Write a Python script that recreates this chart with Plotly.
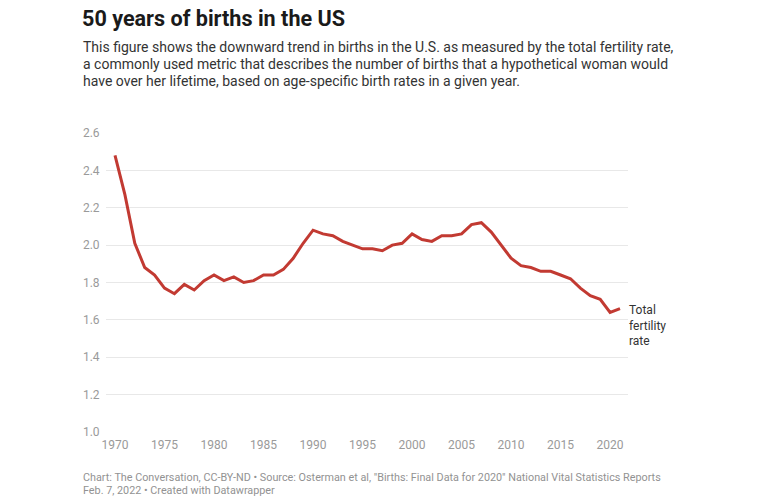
import plotly.graph_objects as go

years = list(range(1970, 2022))
tfr = [2.48, 2.27, 2.01, 1.88, 1.84, 1.77, 1.74, 1.79, 1.76, 1.81,
       1.84, 1.81, 1.83, 1.80, 1.81, 1.84, 1.84, 1.87, 1.93, 2.01,
       2.08, 2.06, 2.05, 2.02, 2.00, 1.98, 1.98, 1.97, 2.00, 2.01,
       2.06, 2.03, 2.02, 2.05, 2.05, 2.06, 2.11, 2.12, 2.07, 2.00,
       1.93, 1.89, 1.88, 1.86, 1.86, 1.84, 1.82, 1.77, 1.73, 1.71,
       1.64, 1.66]
x_ticks = [1970, 1975, 1980, 1985, 1990, 1995, 2000, 2005, 2010, 2015, 2020]
y_ticks = [1.0, 1.2, 1.4, 1.6, 1.8, 2.0, 2.2, 2.4, 2.6]

title = "50 years of births in the US"
subtitle_lines = [
    "This figure shows the downward trend in births in the U.S. as measured by the total fertility rate,",
    "a commonly used metric that describes the number of births that a hypothetical woman would",
    "have over her lifetime, based on age-specific birth rates in a given year.",
]
footer_lines = [
    "Chart: The Conversation, CC-BY-ND • Source: Osterman et al, \"Births: Final Data for 2020\" National Vital Statistics Reports",
    "Feb. 7, 2022 • Created with Datawrapper",
]
series_label = "Total<br>fertility<br>rate"

OFF = 8  # page body margin
W, H = 758 - OFF, 502 - OFF
# plot area in page pixels
L, R, T, B = 106, 628, 133, 432
Lf, Rf, Tf, Bf = L - OFF, R - OFF, T - OFF, B - OFF

def px(x):
    return (x - L) / (R - L)

def py(y):
    return (B - y) / (B - T)

PX_PER_YEAR = (620 - 115) / 51.0

fig = go.Figure()
fig.add_trace(go.Scatter(x=years, y=tfr, mode="lines",
                         line=dict(color="#c23a32", width=3),
                         hoverinfo="skip", showlegend=False))

FONT = "Roboto, Arial, sans-serif"

fig.update_layout(
    width=W, height=H,
    margin=dict(l=Lf, r=W - Rf, t=Tf, b=H - Bf, pad=0),
    paper_bgcolor="white", plot_bgcolor="white",
    font=dict(family=FONT, color="#333333"),
    showlegend=False,
    xaxis=dict(range=[1970 - (115 - L) / PX_PER_YEAR, 1970 + (R - 115) / PX_PER_YEAR],
               tickvals=x_ticks, ticktext=[str(v) for v in x_ticks],
               showgrid=False, zeroline=False, showline=False,
               ticks="outside", ticklen=2, tickcolor="rgba(0,0,0,0)",
               tickfont=dict(family=FONT, size=12, color="#9a9a9a")),
    yaxis=dict(range=[1.0, 2.6], tickvals=y_ticks,
               ticktext=[f"{v:.1f}" for v in y_ticks],
               showgrid=True, gridcolor="#e8e8e8", gridwidth=1,
               zeroline=False, showline=False,
               ticks="outside", ticklen=3, tickcolor="rgba(0,0,0,0)",
               tickfont=dict(family=FONT, size=12, color="#9a9a9a")),
)

anns = [dict(text="<b>" + title + "</b>", x=px(80), y=py(18), font=dict(size=21.6, color="#1a1a1a"))]
for i, line in enumerate(subtitle_lines):
    anns.append(dict(text=line, x=px(81), y=py(47 + 17 * i), font=dict(size=14, color="#333333")))
for i, line in enumerate(footer_lines):
    anns.append(dict(text=line, x=px(81), y=py(477 + 13 * i), font=dict(size=10.8, color="#929292")))
anns.append(dict(text=series_label, x=px(627), y=py(325), font=dict(size=12, color="#333333")))

for a in anns:
    fig.add_annotation(xref="paper", yref="paper", xanchor="left", yanchor="middle",
                       align="left", showarrow=False, **a)

fig.write_html("out.html")
